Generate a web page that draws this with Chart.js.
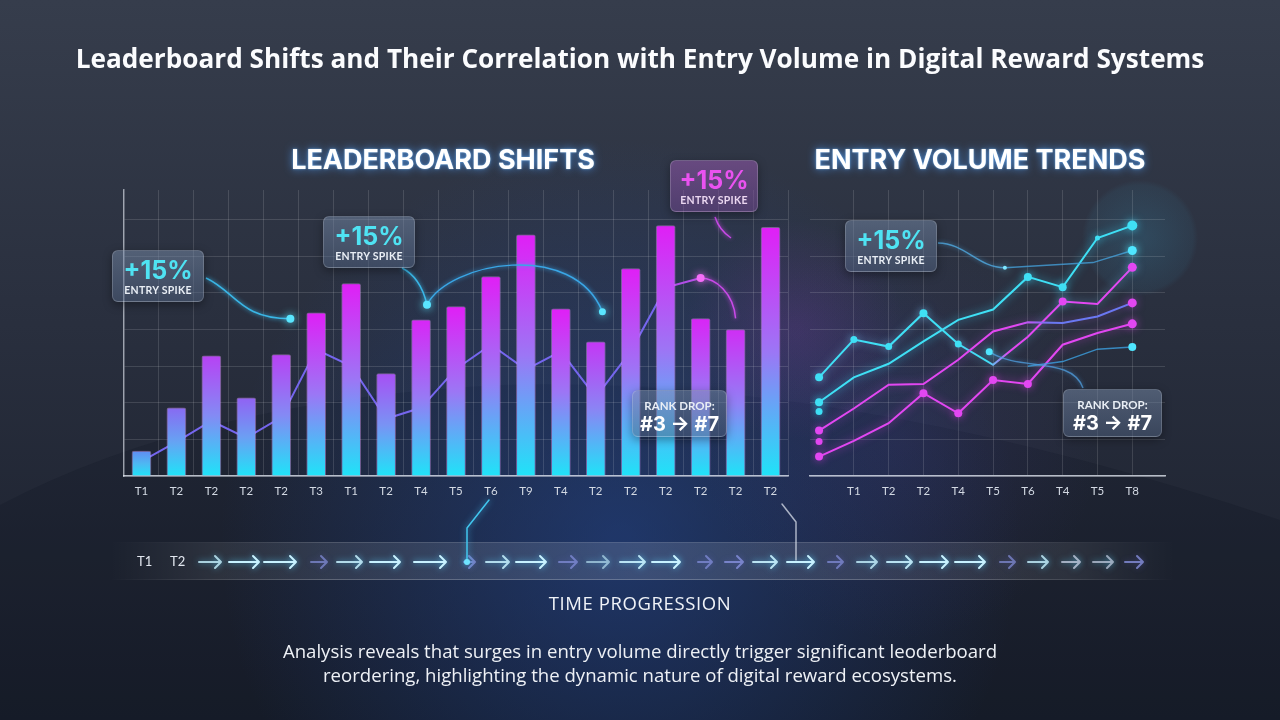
<!DOCTYPE html>
<html lang="en">
<head>
<meta charset="utf-8">
<title>Leaderboard Shifts and Entry Volume</title>
<script src="https://cdn.jsdelivr.net/npm/chart.js@4.4.1/dist/chart.umd.min.js"></script>
<style>
  html, body { margin: 0; padding: 0; }
  body { width: 1280px; height: 720px; overflow: hidden; position: relative; background: #242a38; font-family: "Open Sans", Lato, sans-serif; color: #fff; }
  .full { position: absolute; left: 0; top: 0; width: 1280px; height: 720px; }
  .title { position: absolute; left: 0; top: 40px; width: 1280px; text-align: center; font-size: 26.2px; font-weight: 700; line-height: 36px; color: #fbfcfe; }
  .heading { position: absolute; top: 144px; width: 440px; text-align: center; font-family: Inter, Lato, sans-serif; font-weight: 700; font-size: 27px; line-height: 32px; text-shadow: 0 0 9px rgba(80,160,255,0.8), 0 0 2px rgba(150,210,255,0.8); }
  .note { position: absolute; box-sizing: border-box; border-radius: 6px; text-align: center; border: 1px solid rgba(255,255,255,0.18); background: linear-gradient(180deg, rgba(120,140,170,0.5), rgba(80,98,128,0.5)); box-shadow: 0 3px 10px rgba(0,0,0,0.35); font-family: Lato, sans-serif; }
  .note b { display: block; font-family: Inter, Lato, sans-serif; font-size: 25px; line-height: 28px; margin-top: 5px; color: #4fe3f3; }
  .note span { display: block; font-size: 10.5px; font-weight: 700; letter-spacing: 0.3px; color: #e9eef5; }
  .note.pink { background: linear-gradient(180deg, rgba(150,90,175,0.55), rgba(110,70,140,0.55)); }
  .note.pink b { color: #ea52f0; }
  .note.pink span { color: #ead6f0; }
  .rank span { font-size: 11.5px; margin-top: 8px; letter-spacing: 0; }
  .rank b { font-size: 20px; line-height: 24px; margin-top: 0; color: #ffffff; }
  .tl { position: absolute; top: 553px; font-size: 13px; color: #e2e7ef; font-family: Lato, sans-serif; }
  .progress { position: absolute; top: 590px; left: 0; width: 1280px; text-align: center; font-size: 18.5px; letter-spacing: 0.6px; color: #f0f3f8; }
  .caption { position: absolute; top: 639px; left: 0; width: 1280px; text-align: center; font-size: 18.6px; line-height: 24px; color: #eef1f6; }
</style>
</head>
<body>
<canvas id="bg" class="full" width="1280" height="720"></canvas>
<div class="full"><canvas id="leftChart"></canvas></div>
<div class="full"><canvas id="rightChart"></canvas></div>

<div class="title">Leaderboard Shifts and Their Correlation with Entry Volume in Digital Reward Systems</div>
<div class="heading" style="left:223px">LEADERBOARD SHIFTS</div>
<div class="heading" style="left:760px">ENTRY VOLUME TRENDS</div>

<div class="note" style="left:112px;top:250px;width:92px;height:52px"><b>+15%</b><span>ENTRY SPIKE</span></div>
<div class="note" style="left:323px;top:216px;width:92px;height:52px"><b>+15%</b><span>ENTRY SPIKE</span></div>
<div class="note pink" style="left:670px;top:160px;width:88px;height:52px"><b>+15%</b><span>ENTRY SPIKE</span></div>
<div class="note rank" style="left:632px;top:390px;width:95px;height:47px"><span>RANK DROP:</span><b>#3 → #7</b></div>
<div class="note" style="left:845px;top:220px;width:92px;height:52px"><b>+15%</b><span>ENTRY SPIKE</span></div>
<div class="note rank" style="left:1063px;top:389px;width:99px;height:48px"><span>RANK DROP:</span><b>#3 → #7</b></div>

<div class="tl" style="left:137px">T1</div>
<div class="tl" style="left:170px">T2</div>
<div class="progress">TIME PROGRESSION</div>
<div class="caption">Analysis reveals that surges in entry volume directly trigger significant leoderboard<br>reordering, highlighting the dynamic nature of digital reward ecosystems.</div>

<script>
// leaderboard panel
const leftTicks = ['T1','T2','T2','T2','T2','T3','T1','T2','T4','T5','T6','T9','T4','T2','T2','T2','T2','T2','T2'];
const shiftValues = [6.8, 18.6, 32.8, 21.3, 33.1, 44.5, 52.5, 27.9, 42.6, 46.2, 54.4, 65.8, 45.6, 36.6, 56.6, 68.3, 42.9, 39.9, 67.8];
const rankLine = [4, 9.3, 15, 10.4, 16, 34.5, 30, 15.6, 18.6, 29.2, 35.8, 29, 34, 21.5, 34, 51.4, 54, null, null];

// entry volume panel
const rightTicks = ['T1','T2','T2','T4','T5','T6','T4','T5','T8'];
const volumeTop = [20.1, 26.9, 30.6, 36.7, 42.6, 45.4, 54.3, 51.5, 64.9, 68.3];
const volumeCross = [26.9, 37.2, 35.3, 44.4, 36.0, 30.3, 38.0, 47.6, 46.9, 56.9];
const volumeMid = [12.4, 18.4, 24.9, 25.1, 31.7, 39.4, 41.9, 41.7, 43.5, 47.2];
const volumeLow = [5.3, 9.6, 14.4, 22.6, 17.1, 26.2, 25.1, 35.8, 39.0, 41.5];
const volumeFaint = [null, null, null, null, null, null, 29.9, 31.2, 34.6, 35.2];
const startCyan = [17.6];
const startPink = [9.4];

const CYAN = '#3fe0f5', PINK = '#e347f2', BLUE = '#6a78f2';
Chart.defaults.font.family = 'Lato, "Noto Sans", sans-serif';

// ---------- background + timeline ----------
(function drawBackground() {
  const c = document.getElementById('bg').getContext('2d');
  let g = c.createLinearGradient(0, 0, 0, 720);
  g.addColorStop(0, '#363d4c');
  g.addColorStop(0.45, '#292f3e');
  g.addColorStop(1, '#191e2b');
  c.fillStyle = g;
  c.fillRect(0, 0, 1280, 720);

  // darker foreground hill
  c.fillStyle = 'rgba(8,12,22,0.16)';
  c.beginPath();
  c.moveTo(0, 505);
  c.quadraticCurveTo(200, 400, 500, 385);
  c.quadraticCurveTo(850, 375, 1280, 520);
  c.lineTo(1280, 720); c.lineTo(0, 720);
  c.fill();

  // blue glow under the charts
  g = c.createRadialGradient(620, 540, 10, 620, 540, 400);
  g.addColorStop(0, 'rgba(35,75,160,0.5)');
  g.addColorStop(1, 'rgba(35,75,160,0)');
  c.fillStyle = g; c.fillRect(0, 0, 1280, 720);

  // magenta glow near right panel
  g = c.createRadialGradient(795, 330, 5, 795, 330, 110);
  g.addColorStop(0, 'rgba(190,60,220,0.14)');
  g.addColorStop(1, 'rgba(190,60,220,0)');
  c.fillStyle = g; c.fillRect(0, 0, 1280, 720);

  g = c.createRadialGradient(900, 440, 5, 900, 440, 200);
  g.addColorStop(0, 'rgba(70,60,150,0.18)');
  g.addColorStop(1, 'rgba(70,60,150,0)');
  c.fillStyle = g; c.fillRect(0, 0, 1280, 720);

  // cyan halo top right
  g = c.createRadialGradient(1140, 238, 5, 1140, 238, 58);
  g.addColorStop(0, 'rgba(60,160,200,0.2)');
  g.addColorStop(0.9, 'rgba(60,160,200,0.08)');
  g.addColorStop(1, 'rgba(60,160,200,0)');
  c.fillStyle = g; c.fillRect(1060, 160, 180, 160);

  // timeline band
  g = c.createLinearGradient(110, 0, 1175, 0);
  g.addColorStop(0, 'rgba(255,255,255,0)');
  g.addColorStop(0.1, 'rgba(255,255,255,0.08)');
  g.addColorStop(0.5, 'rgba(255,255,255,0.13)');
  g.addColorStop(0.9, 'rgba(255,255,255,0.08)');
  g.addColorStop(1, 'rgba(255,255,255,0)');
  c.fillStyle = g; c.fillRect(110, 543, 1065, 37);
  g = c.createLinearGradient(110, 0, 1175, 0);
  g.addColorStop(0, 'rgba(255,255,255,0)');
  g.addColorStop(0.2, 'rgba(255,255,255,0.22)');
  g.addColorStop(0.8, 'rgba(255,255,255,0.22)');
  g.addColorStop(1, 'rgba(255,255,255,0)');
  c.fillStyle = g; c.fillRect(110, 542, 1065, 1); c.fillRect(110, 579, 1065, 1);

  // arrows [from, to, strength]
  const arrows = [[199,221,.8],[229,259,1],[264,296,1],[311,327,.35],[337,362,.85],[370,400,1],[414,446,1],[464,475,.4],
    [486,509,.85],[516,546,1],[559,577,.35],[587,609,.6],[620,645,.9],[652,680,1],[698,712,.35],[725,743,.45],[753,777,.9],
    [787,814,1],[828,843,.35],[857,877,.8],[887,912,.9],[920,948,1],[955,985,1],[1000,1015,.35],[1028,1048,.8],
    [1062,1080,.55],[1093,1113,.5],[1125,1143,.45]];
  c.lineCap = 'round'; c.lineJoin = 'round'; c.lineWidth = 2;
  arrows.forEach(([a, b, s], i) => {
    const late = i > 24;
    c.strokeStyle = s < 0.5 ? `rgba(140,150,230,${s + 0.3})` : late ? `rgba(200,210,230,${s + 0.2})` : `rgba(200,242,255,${s})`;
    c.shadowColor = s < 0.5 ? 'rgba(120,120,255,0.4)' : 'rgba(90,210,255,0.8)';
    c.shadowBlur = 6;
    c.beginPath(); c.moveTo(a, 562); c.lineTo(b, 562);
    c.moveTo(b - 6, 556); c.lineTo(b, 562); c.lineTo(b - 6, 568);
    c.stroke();
  });
  c.shadowBlur = 0;

  // connectors from charts to timeline
  c.lineWidth = 1.5;
  c.strokeStyle = '#41c6ee';
  c.shadowColor = 'rgba(70,200,255,0.8)'; c.shadowBlur = 6;
  c.beginPath(); c.moveTo(489, 500); c.lineTo(467, 528); c.lineTo(467, 562); c.stroke();
  c.fillStyle = '#6fe4ff';
  c.beginPath(); c.arc(467, 562, 3, 0, Math.PI * 2); c.fill();
  c.shadowBlur = 0;
  c.strokeStyle = 'rgba(230,235,245,0.7)';
  c.beginPath(); c.moveTo(782, 504); c.lineTo(796, 522); c.lineTo(796, 560); c.stroke();
})();

// ---------- helpers ----------
function mix(a, b, t) {
  const p = h => [1, 3, 5].map(i => parseInt(h.slice(i, i + 2), 16));
  const A = p(a), B = p(b);
  return 'rgb(' + A.map((v, i) => Math.round(v + (B[i] - v) * t)).join(',') + ')';
}
function dot(ctx, x, y, r, color) {
  ctx.save();
  ctx.shadowColor = color; ctx.shadowBlur = 8;
  ctx.fillStyle = color;
  ctx.beginPath(); ctx.arc(x, y, r, 0, Math.PI * 2); ctx.fill();
  ctx.restore();
}
function curve(ctx, color, pts) {
  ctx.save();
  ctx.strokeStyle = color; ctx.lineWidth = 1.5;
  ctx.shadowColor = color; ctx.shadowBlur = 4;
  ctx.beginPath();
  ctx.moveTo(pts[0][0], pts[0][1]);
  ctx.bezierCurveTo(pts[1][0], pts[1][1], pts[2][0], pts[2][1], pts[3][0], pts[3][1]);
  ctx.stroke();
  ctx.restore();
}

const glow = {
  id: 'glow',
  beforeDatasetDraw(chart, args) {
    const g = chart.data.datasets[args.index].glow;
    chart.ctx.save();
    if (g) { chart.ctx.shadowColor = g; chart.ctx.shadowBlur = 8; }
  },
  afterDatasetDraw(chart) { chart.ctx.restore(); }
};

const leftNotes = {
  id: 'leftNotes',
  afterDatasetsDraw(chart) {
    const { ctx } = chart;
    const x = chart.scales.x, y = chart.scales.y;
    const P = (i, v) => [x.getPixelForValue(i), y.getPixelForValue(v)];
    const a = P(4.26, 42.9), b = P(8.17, 46.7), c = P(13.19, 44.8);
    const pk = P(16, rankLine[16]), pe = P(17, 43);
    curve(ctx, '#3ab6e6', [[206, 278], [236, 292], [240, a[1]], a]);
    curve(ctx, '#3ab6e6', [[402, 268], [418, 276], [424, 292], b]);
    curve(ctx, '#3aa6e6', [b, [b[0] + 22, b[1] - 43], [c[0] - 29, c[1] - 72], c]);
    curve(ctx, '#c94ae8', [pk, [pk[0] + 15, pk[1]], [pe[0] - 2, pe[1] - 25], pe]);
    curve(ctx, '#c94ae8', [[715, 217], [718, 226], [722, 232], [731, 238]]);
    dot(ctx, a[0], a[1], 4, '#5ae6ff');
    dot(ctx, b[0], b[1], 4, '#5ae6ff');
    dot(ctx, c[0], c[1], 3.5, '#5ae6ff');
    dot(ctx, pk[0], pk[1], 4, '#f46ef8');
  }
};

const rightNotes = {
  id: 'rightNotes',
  afterDatasetsDraw(chart) {
    const { ctx } = chart;
    const x = chart.scales.x, y = chart.scales.y;
    const P = (i, v) => [x.getPixelForValue(i), y.getPixelForValue(v)];
    const e = P(5.34, 56.8), m = P(7.87, 58.2), f = P(9, 61.5), g = P(4.89, 33.9);
    curve(ctx, 'rgba(80,170,225,0.8)', [[938, 243], [965, 243], [978, e[1]], e]);
    ctx.save();
    ctx.strokeStyle = 'rgba(70,165,225,0.75)'; ctx.lineWidth = 1.5;
    ctx.beginPath(); ctx.moveTo(e[0], e[1]); ctx.lineTo(m[0], m[1]); ctx.lineTo(f[0], f[1]); ctx.stroke();
    ctx.restore();
    curve(ctx, 'rgba(80,160,225,0.75)', [g, [g[0] + 30, g[1] + 20], [1072, 356], [1083, 388]]);
    dot(ctx, e[0], e[1], 2, '#7fe8ff');
    dot(ctx, f[0], f[1], 4.5, '#4fe6ff');
    dot(ctx, g[0], g[1], 3.5, '#4fe6ff');
  }
};

const gridColor = 'rgba(255,255,255,0.13)';
const tickFont = { size: 11.5 };
const tensOnly = s => { s.ticks = s.ticks.filter(t => t.value % 10 === 0); };

// ---------- left chart ----------
new Chart(document.getElementById('leftChart'), {
  data: {
    labels: leftTicks,
    datasets: [
      {
        type: 'bar',
        data: shiftValues,
        order: 0,
        barThickness: 19,
        borderRadius: 2,
        borderWidth: 1,
        borderColor: 'rgba(255,220,255,0.28)',
        glow: 'rgba(200,90,255,0.35)',
        backgroundColor: (c) => {
          const y = c.chart.scales.y;
          if (!y || c.raw == null) return '#9a6cf4';
          const top = y.getPixelForValue(c.raw), bottom = y.getPixelForValue(0);
          if (!isFinite(top) || !isFinite(bottom)) return '#9a6cf4';
          const t = Math.min(1, c.raw / 45);
          const g = c.chart.ctx.createLinearGradient(0, top, 0, bottom);
          g.addColorStop(0, mix('#4a9ff0', '#e01ff6', t));
          g.addColorStop(0.5, mix('#40c2f2', '#9c76f5', t));
          g.addColorStop(1, '#1fe3f8');
          return g;
        }
      },
      {
        type: 'line',
        data: rankLine,
        order: 1,
        borderColor: '#7566ee',
        borderWidth: 2,
        pointRadius: 0,
        tension: 0,
        segment: { borderColor: s => s.p0DataIndex >= 15 ? '#b04ee6' : '#7566ee' }
      }
    ]
  },
  options: {
    responsive: true,
    maintainAspectRatio: false,
    animation: false,
    events: [],
    layout: { padding: { left: 124, right: 492, top: 190, bottom: 214 } },
    plugins: { legend: { display: false }, tooltip: { enabled: false } },
    scales: {
      x: {
        grid: { color: gridColor, drawTicks: false },
        border: { color: 'rgba(235,240,250,0.75)', width: 1.5 },
        ticks: { color: '#d3d9e3', font: tickFont, padding: 8, maxRotation: 0, autoSkip: false },
        afterFit: s => { s.height = 30; }
      },
      y: {
        min: 0, max: 78,
        ticks: { display: false, stepSize: 10 },
        afterBuildTicks: tensOnly,
        grid: { color: gridColor, drawTicks: false },
        border: { color: 'rgba(235,240,250,0.55)', width: 1.5 },
        afterFit: s => { s.width = 0; }
      }
    }
  },
  plugins: [glow, leftNotes]
});

// ---------- right chart ----------
const pts = arr => arr.map((v, i) => ({ x: i, y: v }));
const hGrad = (stops) => (c) => {
  const ca = c.chart.chartArea;
  if (!ca || !isFinite(ca.left) || !isFinite(ca.right) || ca.right <= ca.left) return stops[0][1];
  const g = c.chart.ctx.createLinearGradient(ca.left, 0, ca.right, 0);
  stops.forEach(([p, col]) => g.addColorStop(p, col));
  return g;
};

new Chart(document.getElementById('rightChart'), {
  type: 'line',
  data: {
    datasets: [
      {
        data: pts(volumeFaint), borderColor: 'rgba(60,160,225,0.8)', borderWidth: 1.5,
        pointRadius: [0, 0, 0, 0, 0, 0, 0, 0, 0, 4], pointBackgroundColor: '#4fe6ff', pointBorderWidth: 0
      },
      {
        data: pts(volumeLow), borderColor: PINK, borderWidth: 2, glow: 'rgba(230,70,240,0.6)',
        pointRadius: [4, 0, 0, 4, 4, 4, 4, 0, 0, 4.5], pointBackgroundColor: PINK, pointBorderWidth: 0
      },
      {
        data: pts(volumeMid), borderWidth: 2, glow: 'rgba(200,80,240,0.5)',
        borderColor: hGrad([[0, PINK], [0.58, PINK], [0.68, BLUE], [1, BLUE]]),
        pointRadius: [4, 0, 0, 0, 0, 0, 0, 0, 0, 4.5], pointBackgroundColor: PINK, pointBorderWidth: 0
      },
      {
        data: pts(volumeCross), borderWidth: 2, glow: 'rgba(120,200,255,0.6)',
        borderColor: hGrad([[0, CYAN], [0.5, CYAN], [0.56, PINK], [1, PINK]]),
        pointRadius: [4, 3.5, 3.5, 4, 3.5, 0, 0, 4, 0, 4.5],
        pointBackgroundColor: [CYAN, CYAN, CYAN, CYAN, CYAN, CYAN, PINK, PINK, PINK, PINK], pointBorderWidth: 0
      },
      {
        data: pts(volumeTop), borderColor: CYAN, borderWidth: 2, glow: 'rgba(60,220,255,0.7)',
        pointRadius: [4, 0, 0, 0, 0, 0, 4, 4, 2.5, 5], pointBackgroundColor: CYAN, pointBorderWidth: 0
      },
      {
        data: pts(startCyan), showLine: false, pointRadius: 3.5, pointBackgroundColor: CYAN, pointBorderWidth: 0, glow: 'rgba(60,220,255,0.7)'
      },
      {
        data: pts(startPink), showLine: false, pointRadius: 3.5, pointBackgroundColor: PINK, pointBorderWidth: 0, glow: 'rgba(230,70,240,0.7)'
      }
    ]
  },
  options: {
    responsive: true,
    maintainAspectRatio: false,
    animation: false,
    events: [],
    layout: { padding: { left: 810, right: 115, top: 190, bottom: 214 } },
    plugins: { legend: { display: false }, tooltip: { enabled: false } },
    scales: {
      x: {
        type: 'linear', min: -0.26, max: 9.94,
        afterBuildTicks: s => { s.ticks = rightTicks.map((_, i) => ({ value: i + 1 })); },
        grid: { color: gridColor, drawTicks: false },
        border: { color: 'rgba(235,240,250,0.75)', width: 1.5 },
        ticks: { color: '#d3d9e3', font: tickFont, padding: 8, maxRotation: 0, autoSkip: false, callback: (v, i) => rightTicks[i] },
        afterFit: s => { s.height = 30; }
      },
      y: {
        min: 0, max: 78,
        ticks: { display: false, stepSize: 10 },
        afterBuildTicks: tensOnly,
        grid: { color: gridColor, drawTicks: false },
        border: { display: false },
        afterFit: s => { s.width = 0; }
      }
    }
  },
  plugins: [glow, rightNotes]
});
</script>
</body>
</html>
